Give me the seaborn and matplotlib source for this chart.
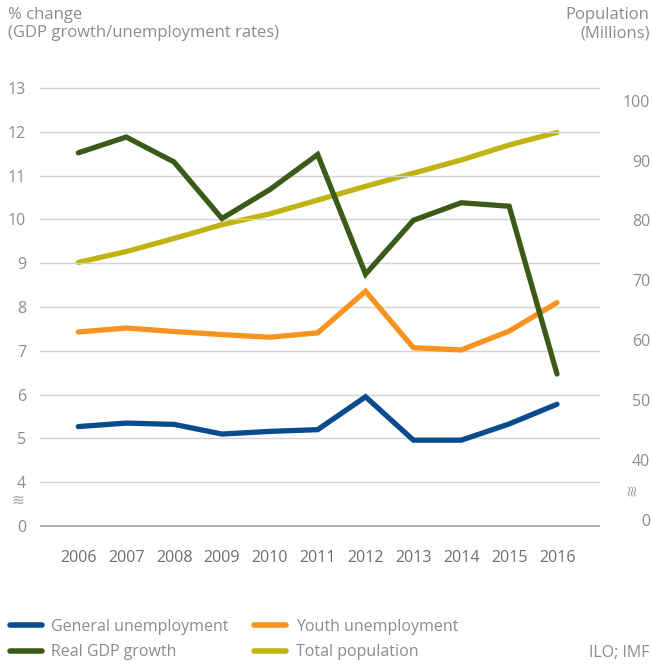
import numpy as np
import pandas as pd
import matplotlib.pyplot as plt
import seaborn as sns
from matplotlib.lines import Line2D

years = [2006, 2007, 2008, 2009, 2010, 2011, 2012, 2013, 2014, 2015, 2016]
general_unemp = [5.27, 5.35, 5.32, 5.1, 5.16, 5.2, 5.95, 4.96, 4.96, 5.33, 5.78]
youth_unemp = [7.43, 7.52, 7.44, 7.37, 7.31, 7.41, 8.36, 7.07, 7.02, 7.45, 8.1]
gdp_growth = [11.52, 11.88, 11.31, 10.02, 10.68, 11.48, 8.75, 9.98, 10.38, 10.3, 6.47]
population = [73.0, 74.8, 77.0, 79.3, 81.1, 83.4, 85.7, 87.9, 90.1, 92.6, 94.7]

left_ticks = [0, 4, 5, 6, 7, 8, 9, 10, 11, 12, 13]
right_ticks = [0, 40, 50, 60, 70, 80, 90, 100]

c_blue = '#0a4b8d'
c_orange = '#f7931e'
c_green = '#3c5a17'
c_olive = '#c0b312'
c_text = '#8c8c8c'

sns.set_style('white')
plt.rcParams['font.family'] = ['Open Sans', 'DejaVu Sans']

fig = plt.figure(figsize=(6.52, 6.64), dpi=100)
ax = fig.add_axes([0.0614, 0.2012, 0.859, 0.6729])

df = pd.DataFrame({'year': years * 3,
                   'value': general_unemp + youth_unemp + gdp_growth,
                   'series': ['General unemployment'] * 11 + ['Youth unemployment'] * 11
                             + ['Real GDP growth'] * 11})
pal = {'General unemployment': c_blue, 'Youth unemployment': c_orange,
       'Real GDP growth': c_green}

ax2 = ax.twinx()
sns.lineplot(x=years, y=population, ax=ax2, color=c_olive, lw=3.8,
             solid_capstyle='round', solid_joinstyle='miter', zorder=2)
sns.lineplot(data=df, x='year', y='value', hue='series', palette=pal, ax=ax,
             lw=3.8, legend=False, solid_capstyle='round', solid_joinstyle='miter',
             zorder=3)
ax.set_zorder(ax2.get_zorder() + 1)
ax.patch.set_visible(False)

# broken axis: left 0 sits one step below 4, right 0 sits one step below 40
ax.set_ylim(2.9, 13.1)
ax.set_yticks([3] + left_ticks[1:])
ax.set_yticklabels([str(t) for t in left_ticks])
ax2.set_ylim(28.25, 102.85)
ax2.set_yticks([30] + right_ticks[1:])
ax2.set_yticklabels([str(t) for t in right_ticks])
ax.set_xlim(2005.2, 2016.9)
ax.set_xticks(years)
ax.set_xticklabels([str(y) for y in years])

for t in [3] + left_ticks[1:]:
    ax.axhline(t, color='#a8a8a8' if t == 3 else '#d2d2d2', lw=1.3 if t == 3 else 1.0,
               zorder=0)

for a in (ax, ax2):
    for s in a.spines.values():
        s.set_visible(False)
    a.set_xlabel('')
    a.set_ylabel('')
    a.grid(False)

ax.tick_params(axis='y', length=0, pad=10, labelsize=11.5, labelcolor=c_text)
ax.tick_params(axis='x', length=0, pad=14, labelsize=11.5, labelcolor='#6e6e6e')
ax2.tick_params(axis='y', length=0, pad=36, labelsize=11.5, labelcolor=c_text)
for lab in ax2.get_yticklabels():
    lab.set_horizontalalignment('right')

fig.text(0.012, 0.99, '% change\n(GDP growth/unemployment rates)', ha='left', va='top',
         fontsize=12, color=c_text, linespacing=1.2)
fig.text(0.996, 0.99, 'Population\n(Millions)', ha='right', va='top',
         fontsize=12, color=c_text, linespacing=1.2, multialignment='right')

# axis break marks
fig.text(0.028, 0.247, '≋', ha='center', va='center', fontsize=11, color='#a0a0a0',
         family=['DejaVu Sans'])
fig.text(0.969, 0.262, '≋', ha='center', va='center', fontsize=11, color='#a0a0a0',
         rotation=90, family=['DejaVu Sans'])

handles = [Line2D([], [], color=c_blue, lw=4, solid_capstyle='round'),
           Line2D([], [], color=c_green, lw=4, solid_capstyle='round'),
           Line2D([], [], color=c_orange, lw=4, solid_capstyle='round'),
           Line2D([], [], color=c_olive, lw=4, solid_capstyle='round')]
labels = ['General unemployment', 'Real GDP growth', 'Youth unemployment', 'Total population']
leg = fig.legend(handles, labels, ncol=2, loc='lower left', bbox_to_anchor=(0.0, -0.009),
                 frameon=False, fontsize=11.5, handlelength=2.0, handletextpad=0.6,
                 columnspacing=1.6, labelspacing=0.6, borderaxespad=0.2)
for t in leg.get_texts():
    t.set_color(c_text)

fig.text(0.996, 0.017, 'ILO; IMF', ha='right', va='center', fontsize=11.5, color=c_text)

fig.savefig('out.png', dpi=100)
